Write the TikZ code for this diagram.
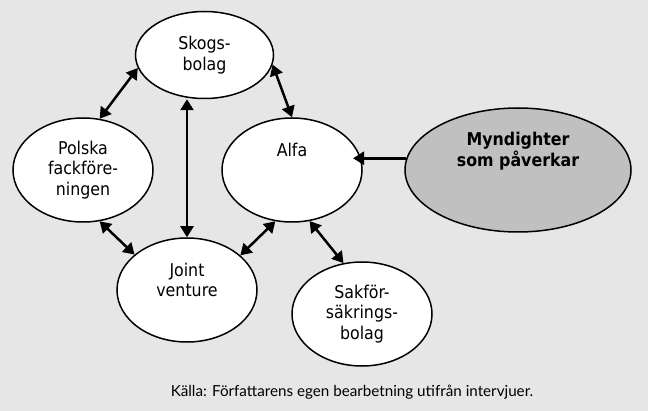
\documentclass[tikz,border=0pt]{standalone}
\usepackage{fontspec}
\setmainfont{DejaVu Sans Condensed}
\newfontfamily\sourcefont{Lato}
\usetikzlibrary{positioning, arrows.meta, shapes.geometric}
\definecolor{bggray}{HTML}{E6E6E6}
\definecolor{mgray}{HTML}{C0C0C0}

\begin{document}
\begin{tikzpicture}[x=0.5pt, y=-0.5pt,
    actor/.style={ellipse, draw, line width=0.75pt, fill=white, inner sep=0pt,
        minimum width=70pt, minimum height=52pt, align=center,
        font=\fontsize{8.8}{10.3}\selectfont},
    both/.style={{Triangle[length=5.5pt,width=6.5pt]}-{Triangle[length=5.5pt,width=6.5pt]}, line width=1.25pt},
    one/.style={-{Triangle[length=5.5pt,width=6.5pt]}, line width=1.25pt}]

    \fill[bggray] (0,0) rectangle (648,411);
    \useasboundingbox (0,0) rectangle (648,411);

    \node[actor, minimum width=69pt, minimum height=43.5pt] (sk) at (204.5,55) {Skogs-\\bolag};

    \node[actor] (pol) at (83,170) {Polska\\fackföre-\\ningen};

    \node[actor] (alfa) at (292,170) {Alfa\\~\\~};

    \node[actor, fill=mgray, minimum width=113pt, minimum height=62pt,
        font=\fontsize{8.8}{10.3}\selectfont\bfseries] (myn) at (518,170) {Myndighter\\som påverkar\\~\\~};

    \node[actor] (jv) at (187,290) {Joint\\venture\\~};

    \node[actor] (sak) at (362,314) {Sakför-\\säkrings-\\bolag};

    \coordinate (tip) at (353,158);

    % relations
    \draw[both] (sk.191) -- (pol.72);
    \draw[both] (sk.352) -- (alfa.north);
    \draw[both] (jv.north |- sk.south) -- (jv.north);
    \draw[both] (pol.288) -- (jv.146);
    \draw[both] (jv.33) -- (alfa.252);
    \draw[both] (alfa.289) -- (sak.110);
    \draw[one] (myn.174) -- (myn.174 -| tip);

    \node[font=\sourcefont\fontsize{7.6}{9}\selectfont] (src) at (352,392)
        {Källa: Författarens egen bearbetning utifrån intervjuer.};

\end{tikzpicture}
\end{document}
